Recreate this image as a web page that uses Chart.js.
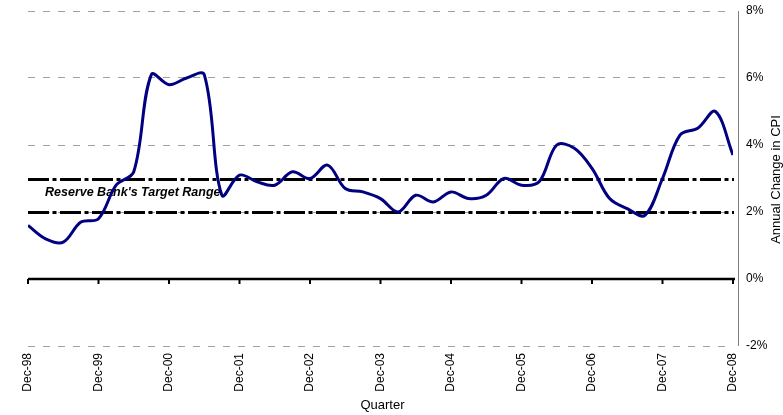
<!DOCTYPE html>
<html>
<head>
<meta charset="utf-8">
<script src="https://cdn.jsdelivr.net/npm/chart.js@4.4.1/dist/chart.umd.min.js"></script>
<style>
  html, body { margin: 0; padding: 0; background: #ffffff; }
  #wrap { width: 783px; height: 415px; }
</style>
</head>
<body>
<div id="wrap"><canvas id="c" width="783" height="415"></canvas></div>
<script>
// ---- data ----
const quarters = [
  'Dec-98','Mar-99','Jun-99','Sep-99','Dec-99','Mar-00','Jun-00','Sep-00','Dec-00',
  'Mar-01','Jun-01','Sep-01','Dec-01','Mar-02','Jun-02','Sep-02','Dec-02',
  'Mar-03','Jun-03','Sep-03','Dec-03','Mar-04','Jun-04','Sep-04','Dec-04',
  'Mar-05','Jun-05','Sep-05','Dec-05','Mar-06','Jun-06','Sep-06','Dec-06',
  'Mar-07','Jun-07','Sep-07','Dec-07','Mar-08','Jun-08','Sep-08','Dec-08'
];
const cpiAnnualChange = [
  1.6, 1.2, 1.1, 1.7, 1.8, 2.8, 3.2, 6.1, 5.8,
  6.0, 6.1, 2.5, 3.1, 2.9, 2.8, 3.2, 3.0,
  3.4, 2.7, 2.6, 2.4, 2.0, 2.5, 2.3, 2.6,
  2.4, 2.5, 3.0, 2.8, 2.9, 4.0, 3.9, 3.3,
  2.4, 2.1, 1.9, 3.0, 4.3, 4.5, 5.0, 3.7
];
const targetRange = [2, 3];           // Reserve Bank's target band (%)
const yTicks = [-2, 0, 2, 4, 6, 8];   // percent tick values
const targetLabel = "Reserve Bank's Target Range";
const xTitle = 'Quarter';
const yTitle = 'Annual Change in CPI';

const FONT = "'Liberation Sans', Arial, sans-serif";

const points = quarters.map((q, i) => ({ x: i, y: cpiAnnualChange[i] }));

function zeroPadding(scale) {
  scale.paddingTop = 0; scale.paddingBottom = 0;
  scale.paddingLeft = 0; scale.paddingRight = 0;
}

const decorations = {
  id: 'decorations',
  beforeDatasetsDraw(chart) {
    const { ctx, chartArea: a, scales: { x, y } } = chart;
    ctx.save();
    // target range lines
    ctx.strokeStyle = '#000000';
    ctx.lineWidth = 3;
    ctx.setLineDash([21, 3.5, 4, 3.5]);
    targetRange.forEach(v => {
      const py = Math.round(y.getPixelForValue(v)) + 0.5;
      ctx.beginPath();
      ctx.moveTo(a.left, py);
      ctx.lineTo(a.right + 1, py);
      ctx.stroke();
    });
    ctx.setLineDash([]);
    // label
    const mid = (y.getPixelForValue(targetRange[0]) + y.getPixelForValue(targetRange[1])) / 2;
    ctx.fillStyle = '#000000';
    ctx.font = "italic bold 12.5px " + FONT;
    ctx.textAlign = 'left';
    ctx.textBaseline = 'alphabetic';
    ctx.fillText(targetLabel, a.left + 17, mid + 0.8);
    // x axis line at 0
    const y0 = y.getPixelForValue(0);
    ctx.lineWidth = 2.5;
    ctx.beginPath();
    ctx.moveTo(a.left, y0);
    ctx.lineTo(a.right + 2, y0);
    ctx.stroke();
    // tick marks
    ctx.lineWidth = 2;
    x.ticks.forEach(t => {
      const px = x.getPixelForValue(t.value);
      ctx.beginPath();
      ctx.moveTo(px, y0);
      ctx.lineTo(px, y0 + 5);
      ctx.stroke();
    });
    ctx.restore();
  },
  afterDraw(chart) {
    const { ctx, chartArea: a } = chart;
    ctx.save();
    // right value axis line
    ctx.strokeStyle = '#808080';
    ctx.lineWidth = 1;
    ctx.beginPath();
    ctx.moveTo(a.right + 5.5, a.top);
    ctx.lineTo(a.right + 5.5, a.bottom);
    ctx.stroke();
    // titles
    ctx.fillStyle = '#000000';
    ctx.font = "13px " + FONT;
    ctx.textAlign = 'center';
    ctx.textBaseline = 'middle';
    ctx.fillText(xTitle, (a.left + a.right) / 2 + 2, 405);
    ctx.translate(776, (a.top + a.bottom) / 2 + 1);
    ctx.rotate(-Math.PI / 2);
    ctx.fillText(yTitle, 0, 0);
    ctx.restore();
  }
};

new Chart(document.getElementById('c'), {
  type: 'line',
  data: {
    datasets: [{
      data: points,
      borderColor: '#000080',
      borderWidth: 3,
      pointRadius: 0,
      tension: 0.35,
      fill: false
    }]
  },
  options: {
    responsive: false,
    devicePixelRatio: 1,
    animation: false,
    events: [],
    layout: { autoPadding: false, padding: { top: 11, left: 28, right: 0, bottom: 0 } },
    plugins: { legend: { display: false }, tooltip: { enabled: false } },
    scales: {
      x: {
        type: 'linear',
        position: 'bottom',
        min: 0,
        max: quarters.length - 1,
        afterBuildTicks(scale) {
          scale.ticks = quarters.map((q, i) => ({ value: i })).filter(t => t.value % 4 === 0);
        },
        afterFit(scale) { scale.height = 69; zeroPadding(scale); },
        grid: { display: false, drawTicks: false },
        border: { display: false },
        ticks: {
          autoSkip: false,
          minRotation: 90,
          maxRotation: 90,
          padding: 7,
          color: '#000000',
          font: { family: FONT, size: 12 },
          callback: (v) => quarters[v]
        }
      },
      y: {
        position: 'right',
        min: yTicks[0],
        max: yTicks[yTicks.length - 1],
        afterBuildTicks(scale) {
          scale.ticks = yTicks.map(v => ({ value: v }));
        },
        afterFit(scale) { scale.width = 50; zeroPadding(scale); },
        grid: {
          drawTicks: false,
          color: (c) => (c.tick && c.tick.value === 0) ? 'rgba(0,0,0,0)' : '#a0a0a0',
          lineWidth: 1
        },
        border: { display: false, dash: [7, 8] },
        ticks: {
          padding: 13,
          color: '#000000',
          font: { family: FONT, size: 12 },
          callback: (v) => v + '%'
        }
      }
    }
  },
  plugins: [decorations]
});
</script>
</body>
</html>
